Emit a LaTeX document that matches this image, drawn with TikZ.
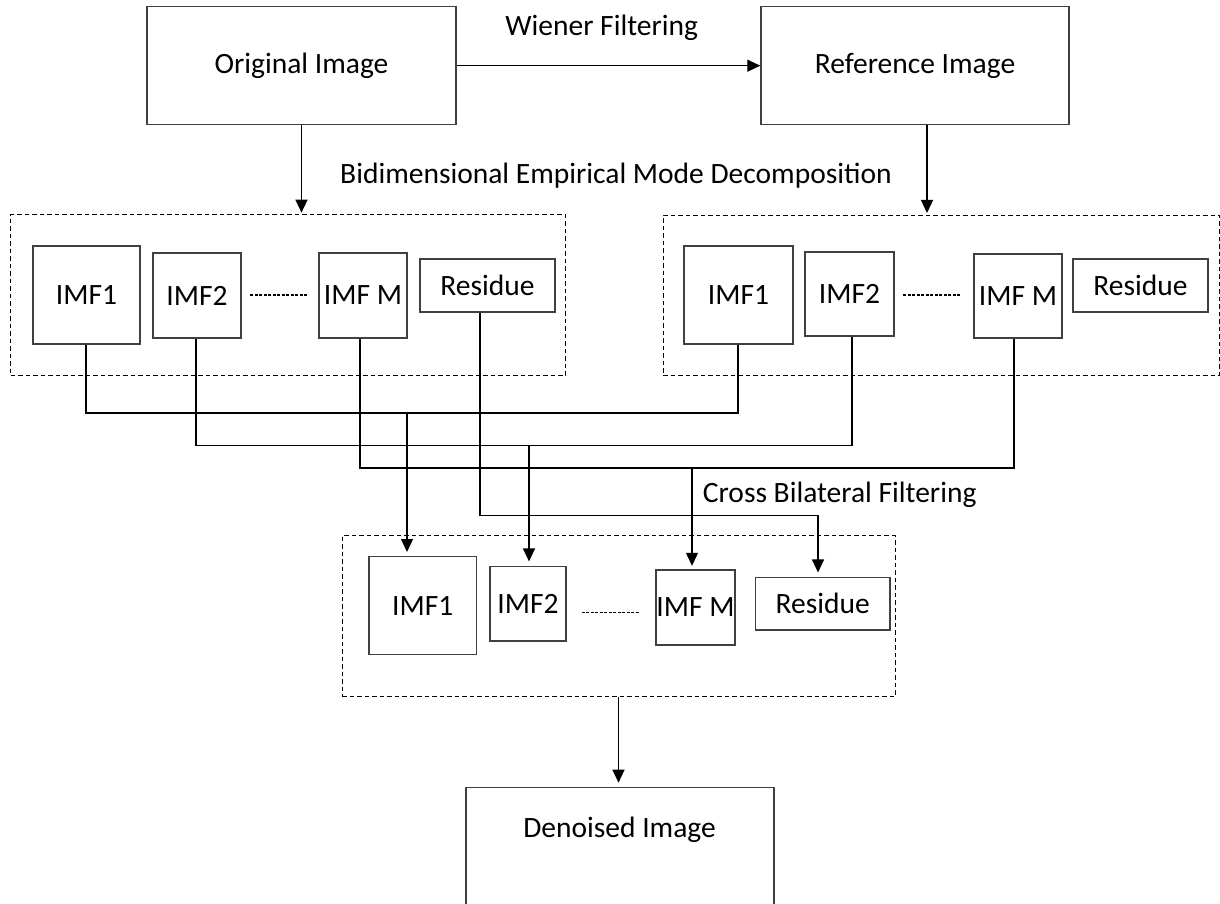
\documentclass[tikz,border=0pt]{standalone}
\usepackage{fontspec}
\setmainfont{Carlito}
\usetikzlibrary{arrows.meta}
\definecolor{boxgray}{RGB}{64,64,64}
\begin{document}
\begin{tikzpicture}[x=1pt,y=-1pt,
  txt/.style={font=\fontsize{29.5}{35}\selectfont},
  box/.style={rectangle, draw=boxgray, line width=1.4pt, inner sep=0pt, txt},
  group/.style={rectangle, draw=black, line width=1pt, dash pattern=on 4.5pt off 3pt, inner sep=0pt},
  conn/.style={draw=black, line width=1.2pt},
  arr/.style={conn, -{Triangle[width=12pt,length=13pt]}},
  lbl/.style={inner sep=0pt, txt},
  dotline/.style={draw=black, line width=1.3pt, dash pattern=on 3pt off 1.5pt}
]
\useasboundingbox (0,0) rectangle (1220,904);
\clip (0,0) rectangle (1220,904);

% top boxes
\node[box, minimum width=309, minimum height=118] (orig) at (301.5,65.7) {Original Image};
\node[box, minimum width=308, minimum height=118] (ref) at (915,65.7) {Reference Image};

% group boxes
\node[group, minimum width=555.3, minimum height=160.6] (g1) at (288.3,295) {};
\node[group, minimum width=556, minimum height=160] (g2) at (941,295) {};
\node[group, minimum width=553, minimum height=160.7] (g3) at (618.5,616.3) {};

% first decomposition
\node[box, minimum width=107, minimum height=98] (a1) at (86.5,295) {IMF1};
\node[box, minimum width=88, minimum height=85] (a2) at (197,295.5) {IMF2};
\node[box, minimum width=88, minimum height=85] (aM) at (363,295.5) {IMF M};
\node[box, minimum width=135, minimum height=53] (aR) at (487.5,285.5) {Residue};

% second decomposition
\node[box, minimum width=109, minimum height=98] (b1) at (738.5,295) {IMF1};
\node[box, minimum width=89, minimum height=84] (b2) at (849.5,294) {IMF2};
\node[box, minimum width=88, minimum height=84] (bM) at (1018,296) {IMF M};
\node[box, minimum width=135, minimum height=53] (bR) at (1140.5,285.5) {Residue};

% filtered components
\node[box, minimum width=107.5, minimum height=98] (c1) at (422.8,605.7) {IMF1};
\node[box, minimum width=76, minimum height=74.3] (c2) at (528,603.8) {IMF2};
\node[box, minimum width=79, minimum height=75] (cM) at (695.5,607.5) {IMF M};
\node[box, minimum width=134.3, minimum height=52.3] (cR) at (822.8,603.8) {Residue};

% denoised
\node[box, minimum width=308, minimum height=140, anchor=north] (d) at (620,786.7) {};
\node[lbl] (dt) at (619.5,830) {Denoised Image};

% labels
\node[lbl] (wf) at (601.7,28) {Wiener Filtering};
\node[lbl] (bemd) at (616,176) {Bidimensional Empirical Mode Decomposition};
\node[lbl, anchor=west] (cbf) at (702.7,495) {Cross Bilateral Filtering};

% dotted separators
\draw[dotline] (250,295) -- (308,295);
\draw[dotline] (903,295) -- (961,295);
\draw[dotline] (581.6,612.7) -- (639,612.7);

% helper coordinates
\coordinate (xr) at (927,0);
\coordinate (xa1) at (86,0);
\coordinate (xa2) at (196,0);
\coordinate (xaM) at (360,0);
\coordinate (xaR) at (480,0);
\coordinate (xb1) at (738,0);
\coordinate (xb2) at (852,0);
\coordinate (xbM) at (1014,0);
\coordinate (xc1) at (407,0);
\coordinate (xc2) at (529,0);
\coordinate (xcM) at (692,0);
\coordinate (xcR) at (818,0);
\coordinate (y1) at (0,413);
\coordinate (y2) at (0,445.5);
\coordinate (y3) at (0,468);
\coordinate (y4) at (0,515.5);

% top arrows
\draw[arr] (orig.east) -- (ref.west);
\draw[arr, shorten >=1.5pt] (orig.south) -- (orig.south |- g1.north);
\draw[arr, shorten >=1.5pt] (ref.south -| xr) -- (g2.north -| xr);

% IMF1 pair
\draw[conn] (a1.south -| xa1) -- (y1 -| xa1) -- (y1 -| xb1) -- (b1.south -| xb1);
\draw[arr, shorten >=4pt] (y1 -| xc1) -- (c1.north -| xc1);
% IMF2 pair
\draw[conn] (a2.south -| xa2) -- (y2 -| xa2) -- (y2 -| xb2) -- (b2.south -| xb2);
\draw[arr, shorten >=4.5pt] (y2 -| xc2) -- (c2.north -| xc2);
% IMF M pair
\draw[conn] (aM.south -| xaM) -- (y3 -| xaM) -- (y3 -| xbM) -- (bM.south -| xbM);
\draw[arr, shorten >=3.5pt] (y3 -| xcM) -- (cM.north -| xcM);
% residue
\draw[arr, shorten >=4.5pt] (aR.south -| xaR) -- (y4 -| xaR) -- (y4 -| xcR) -- (cR.north -| xcR);

% output
\draw[arr, shorten >=4pt] (g3.south) -- (g3.south |- d.north);
\end{tikzpicture}
\end{document}
